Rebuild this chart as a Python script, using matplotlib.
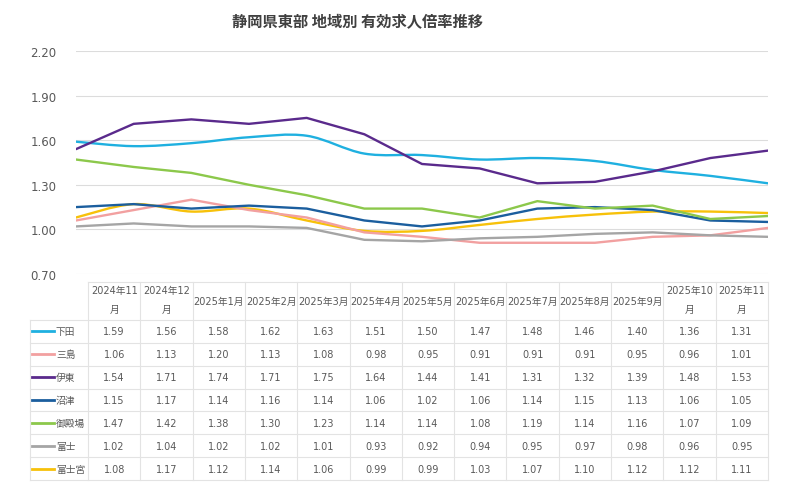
import numpy as np
import matplotlib
matplotlib.use("Agg")
import matplotlib.pyplot as plt
from matplotlib.path import Path
from matplotlib.patches import PathPatch

plt.rcParams['font.family'] = ['DejaVu Sans', 'Noto Sans CJK JP']

title = "静岡県東部 地域別 有効求人倍率推移"
months = ["2024年11月", "2024年12月", "2025年1月", "2025年2月", "2025年3月",
          "2025年4月", "2025年5月", "2025年6月", "2025年7月", "2025年8月",
          "2025年9月", "2025年10月", "2025年11月"]
regions = ["下田", "三島", "伊東", "沼津", "御殿場", "富士", "富士宮"]

shimoda = [1.59, 1.56, 1.58, 1.62, 1.63, 1.51, 1.50, 1.47, 1.48, 1.46, 1.40, 1.36, 1.31]
mishima = [1.06, 1.13, 1.20, 1.13, 1.08, 0.98, 0.95, 0.91, 0.91, 0.91, 0.95, 0.96, 1.01]
ito = [1.54, 1.71, 1.74, 1.71, 1.75, 1.64, 1.44, 1.41, 1.31, 1.32, 1.39, 1.48, 1.53]
numazu = [1.15, 1.17, 1.14, 1.16, 1.14, 1.06, 1.02, 1.06, 1.14, 1.15, 1.13, 1.06, 1.05]
gotemba = [1.47, 1.42, 1.38, 1.30, 1.23, 1.14, 1.14, 1.08, 1.19, 1.14, 1.16, 1.07, 1.09]
fuji = [1.02, 1.04, 1.02, 1.02, 1.01, 0.93, 0.92, 0.94, 0.95, 0.97, 0.98, 0.96, 0.95]
fujinomiya = [1.08, 1.17, 1.12, 1.14, 1.06, 0.99, 0.99, 1.03, 1.07, 1.10, 1.12, 1.12, 1.11]
series = [shimoda, mishima, ito, numazu, gotemba, fuji, fujinomiya]

colors = ["#1fb0e0", "#f2a0a0", "#5a2a8c", "#1b5e9e", "#8cc84b", "#a5a5a5", "#f7c10a"]
smooth = {"下田", "富士宮"}

yticks = [0.70, 1.00, 1.30, 1.60, 1.90, 2.20]

W, H = 800, 489
fig = plt.figure(figsize=(8, 4.89), dpi=100)

# chart area in pixel coords
cx0, cx1, cy0, cy1 = 76, 768, 52, 275
ax = fig.add_axes([cx0 / W, 1 - cy1 / H, (cx1 - cx0) / W, (cy1 - cy0) / H])
ax.set_xlim(0, len(months) - 1)
ax.set_ylim(yticks[0], yticks[-1])
ax.set_yticks(yticks)
ax.set_yticklabels(["%.2f" % v for v in yticks], fontsize=8.5, color="#595959")
ax.tick_params(axis='y', length=0, pad=14)
ax.set_xticks([])
for s in ax.spines.values():
    s.set_visible(False)
ax.grid(axis='y', color="#dcdcdc", lw=0.8)
ax.set_axisbelow(True)


def smooth_path(xs, ys, t=1.0):
    pts = np.column_stack([xs, ys])
    verts = [pts[0]]
    codes = [Path.MOVETO]
    n = len(pts)
    for i in range(n - 1):
        p0 = pts[max(i - 1, 0)]
        p1 = pts[i]
        p2 = pts[i + 1]
        p3 = pts[min(i + 2, n - 1)]
        c1 = p1 + (p2 - p0) / 6 * t
        c2 = p2 - (p3 - p1) / 6 * t
        verts += [c1, c2, p2]
        codes += [Path.CURVE4] * 3
    return Path(verts, codes)


x = np.arange(len(months))
for name, vals, c in zip(regions, series, colors):
    if name in smooth:
        ax.add_patch(PathPatch(smooth_path(x, np.array(vals)), fill=False,
                               edgecolor=c, lw=1.7, capstyle='round', joinstyle='round'))
    else:
        ax.plot(x, vals, color=c, lw=1.7, solid_joinstyle='round', solid_capstyle='round')

fig.text(357 / W, 1 - 22 / H, title, ha='center', va='center', fontsize=11,
         fontweight='bold', color="#404040", family=['Noto Sans CJK JP', 'DejaVu Sans'])

# data table
tb = fig.add_axes([0, 0, 1, 1])
tb.set_xlim(0, W)
tb.set_ylim(H, 0)
tb.axis('off')

lx0, lx1 = 30, 88
tx1 = 768
colw = (tx1 - lx1) / len(months)
hy0, hy1 = 283, 321
rowh = (481 - hy1) / len(regions)
bc = "#e3e3e3"
tc = "#595959"

# horizontal lines
tb.plot([lx1, tx1], [hy0, hy0], color=bc, lw=0.8)
for i in range(len(regions) + 1):
    y = hy1 + i * rowh
    tb.plot([lx0, tx1], [y, y], color=bc, lw=0.8)
# vertical lines
tb.plot([lx0, lx0], [hy1, hy1 + len(regions) * rowh], color=bc, lw=0.8)
for j in range(len(months) + 1):
    xx = lx1 + j * colw
    tb.plot([xx, xx], [hy0, hy1 + len(regions) * rowh], color=bc, lw=0.8)

for j, m in enumerate(months):
    xc = lx1 + (j + 0.5) * colw
    if len(m) > 7:
        tb.text(xc, 291, m[:-1], ha='center', va='center', fontsize=7, color=tc)
        tb.text(xc, 310, m[-1], ha='center', va='center', fontsize=7, color=tc)
    else:
        tb.text(xc, (hy0 + hy1) / 2, m, ha='center', va='center', fontsize=7, color=tc)

for i, (name, vals, c) in enumerate(zip(regions, series, colors)):
    yc = hy1 + (i + 0.5) * rowh
    tb.plot([32, 54], [yc, yc], color=c, lw=2)
    tb.text(56, yc, name, ha='left', va='center', fontsize=7, color=tc)
    for j, v in enumerate(vals):
        tb.text(lx1 + (j + 0.5) * colw, yc, "%.2f" % v, ha='center', va='center',
                fontsize=7, color=tc)

fig.savefig("out.png", dpi=100)
